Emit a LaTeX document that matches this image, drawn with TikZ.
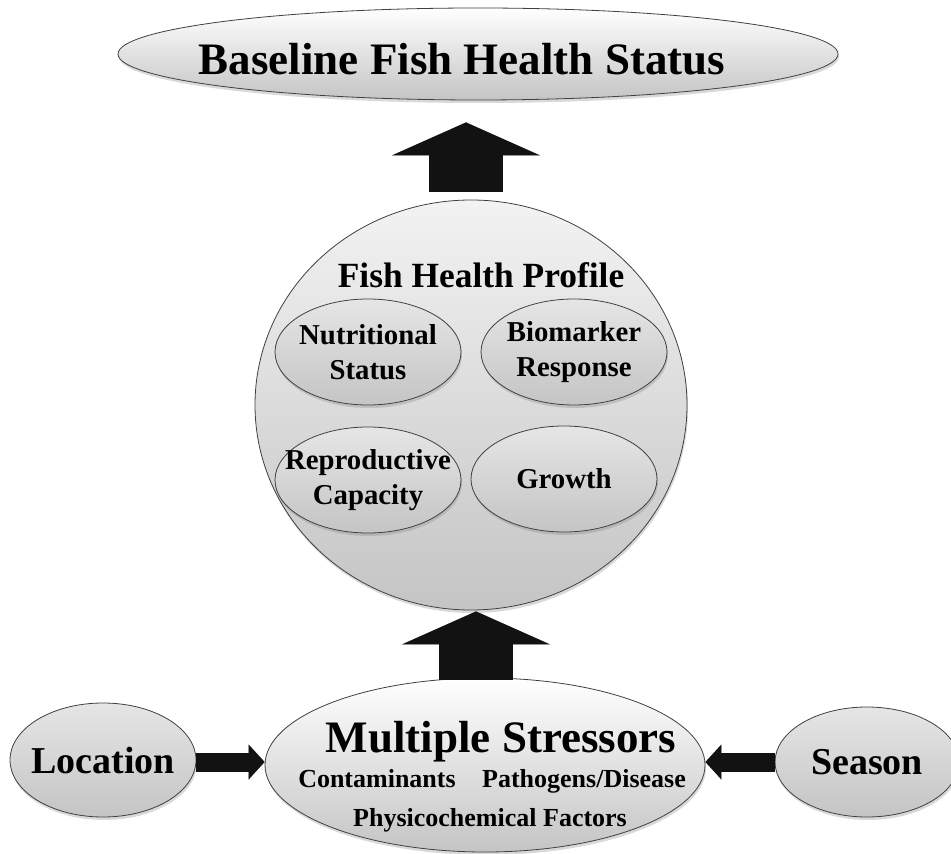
\documentclass[tikz,border=0pt]{standalone}
\usepackage{fontspec}
\setmainfont{Liberation Serif}
\usetikzlibrary{shapes.geometric,arrows.meta,shadows}

\tikzset{
	bubble/.style = {ellipse, draw=black!75, thin, inner sep=0pt, top color=#1, bottom color=black!23,
		drop shadow={shadow xshift=0.5pt, shadow yshift=-1.5pt, opacity=0.3}},
	bubble/.default = black!8,
	bigtxt/.style = {font=\bfseries\fontsize{22.5}{26}\selectfont},
	midtxt/.style = {font=\bfseries\fontsize{19}{22}\selectfont, inner xsep=-14pt},
	subtxt/.style = {font=\bfseries\fontsize{14.4}{17.5}\selectfont, align=center, inner xsep=-14pt},
	smalltxt/.style = {font=\bfseries\fontsize{13}{15}\selectfont},
	fatup/.style = {line width=37pt, black!93, -{Triangle[length=16.5pt, width=74pt, line width=0pt]}},
	fatside/.style = {line width=9.5pt, black!93, -{Triangle[length=8pt, width=17.5pt, line width=0pt]}},
	ghost/.style = {black!40, yshift=-2.5pt, xshift=0.5pt}
}

\begin{document}
\begin{tikzpicture}[x = 0.5pt, y = -0.5pt]
	%	frame
	\useasboundingbox (0, 0) rectangle (951, 854);
	
	%	top
	\node[bubble = white, minimum width = 360pt, minimum height = 46pt] (base) at (478, 54) {};
	\node[bigtxt, anchor = base] (basetxt) at (462, 75) {Baseline Fish Health Status};
	
	%	profile
	\node[bubble = black!5, minimum width = 216pt, minimum height = 205pt] (prof) at (471, 405) {};
	\node[font = \bfseries\fontsize{17.7}{20}\selectfont, anchor = base] (proftxt) at (481, 288) {Fish Health Profile};
	\node[bubble = black!10, subtxt, minimum width = 93pt, minimum height = 53pt] (nutr) at (368, 352) {Nutritional\\Status};
	\node[bubble = black!10, subtxt, minimum width = 93pt, minimum height = 53pt] (bio) at (574, 352) {Biomarker\\Response};
	\node[bubble = black!10, subtxt, minimum width = 93pt, minimum height = 53pt] (repr) at (368, 480) {Reproductive\\Capacity};
	\node[bubble = black!10, subtxt, minimum width = 93pt, minimum height = 53pt] (grow) at (564, 479) {Growth};
	
	%	stressors
	\node[bubble = white, minimum width = 220pt, minimum height = 87pt] (ms) at (485, 765) {};
	\node[bigtxt, anchor = base] (mstxt) at (501, 752) {Multiple Stressors};
	\node[smalltxt, anchor = base] (cont) at (377, 787) {Contaminants};
	\node[smalltxt, anchor = base] (path) at (584, 787) {Pathogens/Disease};
	\node[smalltxt, anchor = base] (phys) at (490, 826) {Physicochemical Factors};
	\node[bubble = black!10, midtxt, minimum width = 93pt, minimum height = 57pt] (loc) at (103, 760) {Location};
	\node[bubble = black!10, midtxt, minimum width = 92pt, minimum height = 55pt] (seas) at (867, 762) {Season};
	
	%	arrows
	\draw[fatup, ghost] ([xshift = -2.5pt, yshift = 4pt]prof.north) -- ([xshift = -6pt, yshift = -11pt]base.south);
	\draw[fatup] ([xshift = -2.5pt, yshift = 4pt]prof.north) -- ([xshift = -6pt, yshift = -11pt]base.south);
	\draw[fatup, ghost] ([xshift = -4.5pt, yshift = -1pt]ms.north) -- ([xshift = 2.5pt, yshift = -0.5pt]prof.south);
	\draw[fatup] ([xshift = -4.5pt, yshift = -1pt]ms.north) -- ([xshift = 2.5pt, yshift = -0.5pt]prof.south);
	\draw[fatside, ghost] ([yshift = -1pt]loc.east) -- ([yshift = 1.5pt]ms.west);
	\draw[fatside] ([yshift = -1pt]loc.east) -- ([yshift = 1.5pt]ms.west);
	\draw[fatside, ghost] (seas.west) -- ([yshift = 1.5pt]ms.east);
	\draw[fatside] (seas.west) -- ([yshift = 1.5pt]ms.east);
\end{tikzpicture}
\end{document}
